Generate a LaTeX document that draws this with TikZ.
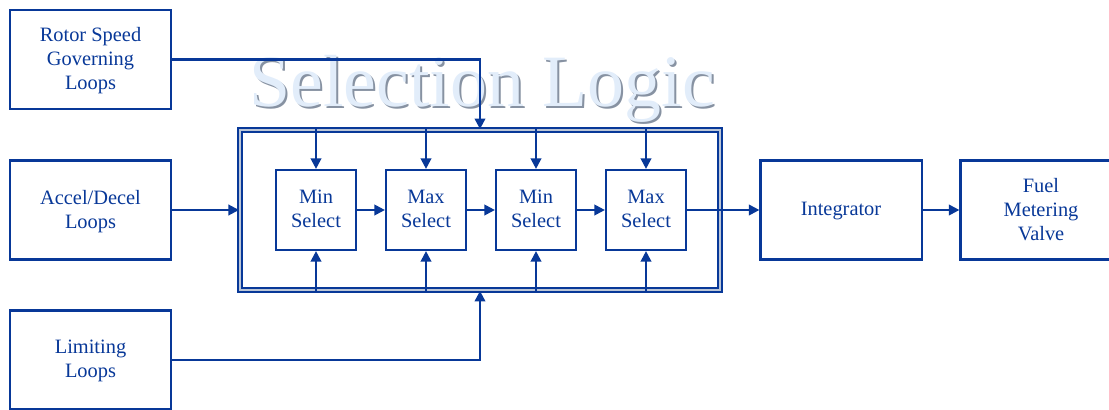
\documentclass[tikz,border=0pt]{standalone}
\usepackage{fontspec}
\setmainfont{Liberation Serif}
\usetikzlibrary{arrows.meta}

\definecolor{loopblue}{RGB}{8,56,152}
\definecolor{titlefill}{RGB}{226,237,250}
\definecolor{titleshade}{RGB}{135,146,162}
\definecolor{framegap}{RGB}{188,198,214}

\begin{document}
\begin{tikzpicture}[x=0.01cm,y=-0.01cm]

\useasboundingbox (0,0) rectangle (1109,409);

\tikzstyle{loopbox}=[draw=loopblue, line width=0.6pt, text=loopblue, align=center,
  font=\fontsize{5.8}{6.8}\selectfont, minimum width=1.61cm, minimum height=0.99cm,
  inner sep=0pt, text depth=0.5pt]
\tikzstyle{selbox}=[loopbox, minimum width=0.8cm, minimum height=0.8cm]
\tikzstyle{feed}=[draw=loopblue, line width=0.6pt, -{Triangle[length=3pt,width=3pt]}]
\tikzstyle{titletext}=[font=\fontsize{21}{25}\selectfont, anchor=base, inner sep=0pt]

% title, drawn first so the lines run over it
\node[titletext, text=titleshade] (titleshadow) at (484,108) {Selection Logic};
\node[titletext, text=titlefill] (title) at (482,106) {Selection Logic};

% loops on the left
\node[loopbox] (rotor) at (90.5,59.5) {Rotor Speed\\Governing\\Loops};
\node[loopbox] (accel) at (90.5,210) {Accel/Decel\\Loops};
\node[loopbox] (limit) at (90.5,360) {Limiting\\Loops};

% selection frame
\node[draw=loopblue, line width=0.5pt, double=framegap, double distance=0.6pt,
  minimum width=4.8cm, minimum height=1.6cm] (logic) at (480,210) {};

\node[selbox] (minsel1) at (316,210) {Min\\Select};
\node[selbox] (maxsel1) at (426,210) {Max\\Select};
\node[selbox] (minsel2) at (536,210) {Min\\Select};
\node[selbox] (maxsel2) at (646,210) {Max\\Select};

% right side
\node[loopbox] (integ) at (841,210) {Integrator};
\node[loopbox] (fuel) at (1041,210) {Fuel\\Metering\\Valve};

% Inputs
\draw[feed] (rotor.east) -| (logic.north);
\draw[feed] (accel) -- (logic);
\draw[feed] (limit.east) -| (logic.south);

% chain
\draw[feed] (minsel1) -- (maxsel1);
\draw[feed] (maxsel1) -- (minsel2);
\draw[feed] (minsel2) -- (maxsel2);
\draw[feed] (maxsel2) -- (integ);
\draw[feed] (integ) -- (fuel);

% feeds from the frame
\draw[feed] (minsel1 |- logic.north) -- (minsel1);
\draw[feed] (maxsel1 |- logic.north) -- (maxsel1);
\draw[feed] (minsel2 |- logic.north) -- (minsel2);
\draw[feed] (maxsel2 |- logic.north) -- (maxsel2);
\draw[feed] (minsel1 |- logic.south) -- (minsel1);
\draw[feed] (maxsel1 |- logic.south) -- (maxsel1);
\draw[feed] (minsel2 |- logic.south) -- (minsel2);
\draw[feed] (maxsel2 |- logic.south) -- (maxsel2);

\end{tikzpicture}
\end{document}
